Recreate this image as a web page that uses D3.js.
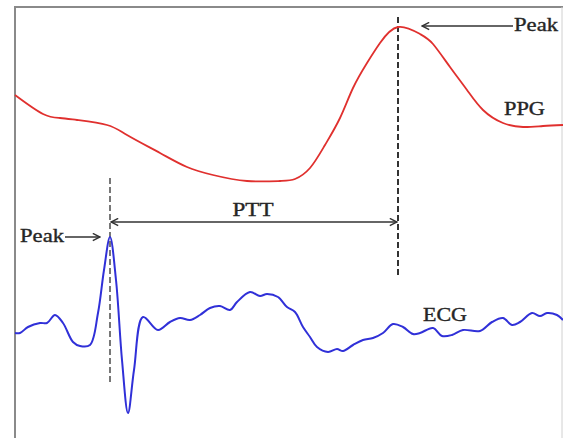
<!DOCTYPE html>
<html>
<head>
<meta charset="utf-8">
<script src="https://cdn.jsdelivr.net/npm/d3@7"></script>
<style>
  body { margin: 0; background: #fff; }
  text { font-family: "Liberation Serif", "DejaVu Serif", serif; fill: #262626; stroke: #262626; stroke-width: 0.35; }
</style>
</head>
<body>
<div id="chart"></div>
<script>
// time (ms) and amplitude (arbitrary units)
var ppgTime = [0, 56, 90, 124, 184, 224, 290, 344, 396, 464, 530, 560, 590, 620, 650, 676, 704, 730, 766, 810, 836, 870, 904, 936, 976, 1016, 1056, 1096];
var ppgAmp  = [343, 324, 320, 318, 313, 303, 285, 271, 263, 257, 257, 259, 270, 293, 320, 350, 375, 395, 411, 404, 394, 371, 348, 328, 315, 311, 312, 313];

var ecgTime = [0, 10, 26, 50, 64, 80, 96, 116, 130, 150, 166, 178, 190, 202, 214, 226, 238, 256, 286, 310, 330, 350, 370, 390, 410, 430, 444, 470, 490, 504, 526, 544, 560, 576, 590, 604, 626, 644, 656, 676, 696, 716, 736, 756, 776, 796, 810, 836, 854, 874, 896, 930, 954, 976, 994, 1010, 1034, 1050, 1064, 1084, 1096];
var ecgAmp  = [105, 105, 111, 115, 115, 123, 115, 96, 92, 93, 125, 168, 201, 158, 78, 25, 68, 121, 108, 116, 120, 118, 123, 130, 132, 128, 136, 146, 142, 144, 141, 131, 126, 111, 101, 91, 86, 89, 87, 93, 98, 100, 105, 114, 111, 104, 105, 110, 102, 103, 108, 107, 116, 120, 113, 116, 125, 122, 125, 123, 118];

var ecgPeakTime = 190, ecgPeakAmp = 201;
var ppgPeakTime = 766, ppgPeakAmp = 411;

function init() {
    var w = 563, h = 438;

    var xScale = d3.scaleLinear().domain([0, 1096]).range([15, 563]);
    var yScale = d3.scaleLinear().domain([0, 431]).range([438, 7]);

    var svg = d3.select("#chart").append("svg")
        .attr("width", w).attr("height", h);

    // open chevron arrow heads
    var defs = svg.append("defs");
    defs.append("marker")
        .attr("id", "head")
        .attr("viewBox", "0 0 10 10")
        .attr("refX", 9).attr("refY", 5)
        .attr("markerWidth", 9).attr("markerHeight", 9)
        .attr("markerUnits", "userSpaceOnUse")
        .attr("orient", "auto-start-reverse")
        .append("path")
        .attr("d", "M1,1 L9,5 L1,9")
        .attr("fill", "none")
        .attr("stroke", "#333")
        .attr("stroke-width", 1.6);

    // frame
    svg.append("path")
        .attr("d", "M15,438 L15,7 L563,7")
        .attr("fill", "none").attr("stroke", "#8a8a8a").attr("stroke-width", 2);
    svg.append("line")
        .attr("x1", 562).attr("x2", 562).attr("y1", 7).attr("y2", 438)
        .attr("stroke", "#d0d0d0").attr("stroke-width", 1);

    var ppgLine = d3.line()
        .x(function(d) { return xScale(d.t); })
        .y(function(d) { return yScale(d.a); })
        .curve(d3.curveNatural);

    var ecgLine = d3.line()
        .x(function(d) { return xScale(d.t); })
        .y(function(d) { return yScale(d.a); })
        .curve(d3.curveCatmullRom.alpha(0.5));

    var ppg = ppgTime.map(function(t, i) { return { t: t, a: ppgAmp[i] }; });
    var ecg = ecgTime.map(function(t, i) { return { t: t, a: ecgAmp[i] }; });

    // dashed peak markers
    svg.append("line")
        .attr("x1", xScale(ecgPeakTime)).attr("x2", xScale(ecgPeakTime))
        .attr("y1", yScale(260)).attr("y2", yScale(56))
        .attr("stroke", "#777").attr("stroke-width", 2)
        .attr("stroke-dasharray", "6,3");
    svg.append("line")
        .attr("x1", xScale(ppgPeakTime)).attr("x2", xScale(ppgPeakTime))
        .attr("y1", yScale(421)).attr("y2", yScale(161))
        .attr("stroke", "#333").attr("stroke-width", 2)
        .attr("stroke-dasharray", "6,3");

    svg.append("path").datum(ppg)
        .attr("d", ppgLine)
        .attr("fill", "none").attr("stroke", "#e0302e").attr("stroke-width", 1.8);

    svg.append("path").datum(ecg)
        .attr("d", ecgLine)
        .attr("fill", "none").attr("stroke", "#3030d8").attr("stroke-width", 2);

    // PTT double arrow
    var pttY = yScale(216);
    svg.append("line")
        .attr("x1", xScale(ecgPeakTime) + 1).attr("x2", xScale(ppgPeakTime) - 1)
        .attr("y1", pttY).attr("y2", pttY)
        .attr("stroke", "#333").attr("stroke-width", 1.5)
        .attr("marker-start", "url(#head)")
        .attr("marker-end", "url(#head)");
    svg.append("text")
        .attr("x", 253).attr("y", pttY - 6)
        .attr("text-anchor", "middle")
        .attr("font-size", 18)
        .attr("textLength", 41).attr("lengthAdjust", "spacingAndGlyphs")
        .text("PTT");

    // ECG peak label
    var ecgPeakY = yScale(ecgPeakAmp);
    svg.append("line")
        .attr("x1", 65).attr("x2", xScale(ecgPeakTime) - 10)
        .attr("y1", ecgPeakY).attr("y2", ecgPeakY)
        .attr("stroke", "#333").attr("stroke-width", 1.5)
        .attr("marker-end", "url(#head)");
    svg.append("text")
        .attr("x", 20).attr("y", ecgPeakY + 5)
        .attr("font-size", 18)
        .attr("textLength", 44).attr("lengthAdjust", "spacingAndGlyphs")
        .text("Peak");

    // PPG peak label
    var ppgPeakY = yScale(ppgPeakAmp) - 1;
    svg.append("line")
        .attr("x1", 513).attr("x2", xScale(ppgPeakTime) + 24)
        .attr("y1", ppgPeakY).attr("y2", ppgPeakY)
        .attr("stroke", "#333").attr("stroke-width", 1.5)
        .attr("marker-end", "url(#head)");
    svg.append("text")
        .attr("x", 514).attr("y", ppgPeakY + 5)
        .attr("font-size", 18)
        .attr("textLength", 44).attr("lengthAdjust", "spacingAndGlyphs")
        .text("Peak");

    // signal names
    svg.append("text")
        .attr("x", 504).attr("y", 115)
        .attr("font-size", 18)
        .attr("textLength", 41).attr("lengthAdjust", "spacingAndGlyphs")
        .text("PPG");
    svg.append("text")
        .attr("x", 423).attr("y", 321)
        .attr("font-size", 18)
        .attr("textLength", 44).attr("lengthAdjust", "spacingAndGlyphs")
        .text("ECG");
}

window.onload = init;
</script>
</body>
</html>
